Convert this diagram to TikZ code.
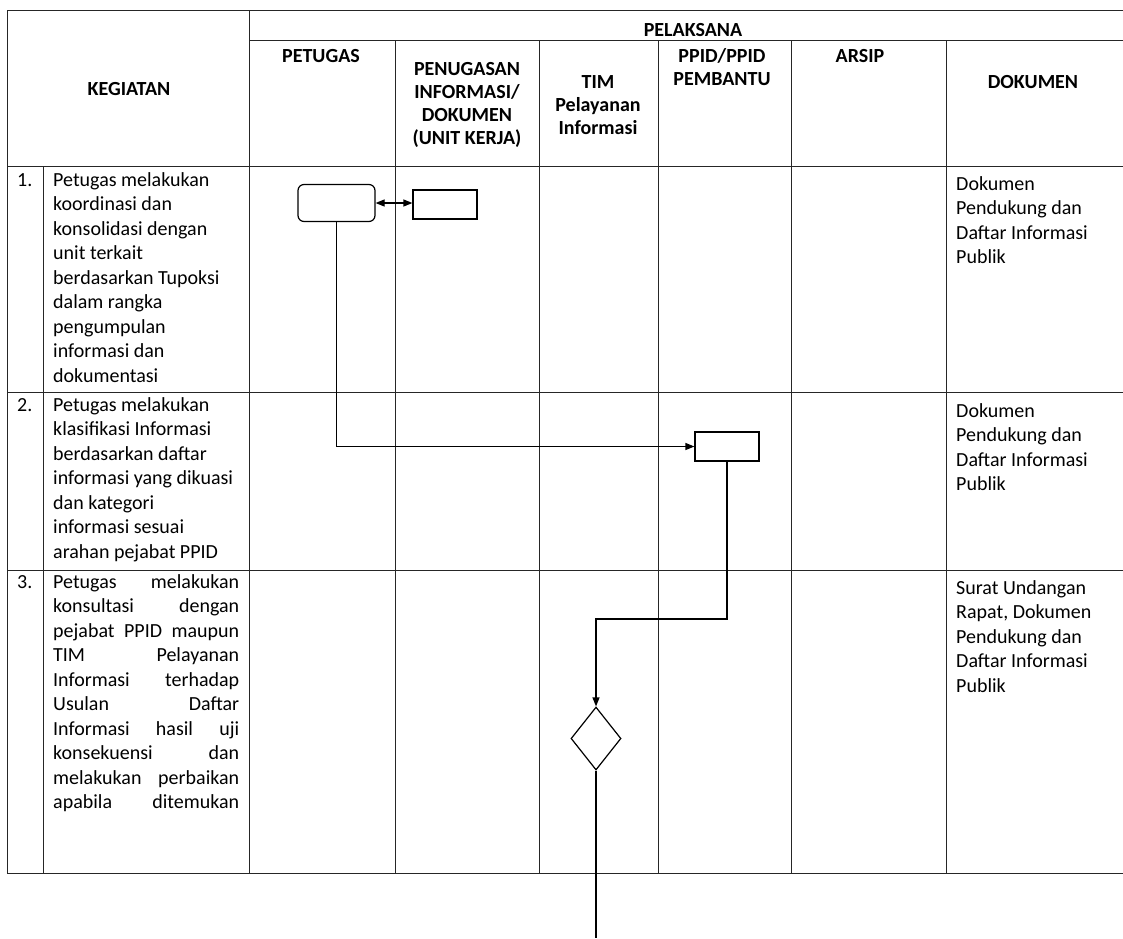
\documentclass[tikz,border=0pt]{standalone}
\usepackage{fontspec}
\setmainfont{Carlito}
\usetikzlibrary{arrows.meta,positioning,shapes.geometric}
\newcommand{\hdfont}{\fontsize{20}{23}\selectfont\bfseries}
\newcommand{\bdfont}{\fontsize{20}{24.5}\selectfont}

\begin{document}
\begin{tikzpicture}[
  x=1pt,y=-1pt,
  grid/.style={draw=black!85,line width=1pt},
  hd/.style={font=\hdfont,inner sep=0pt,align=center},
  bd/.style={font=\bdfont,inner sep=0pt,anchor=north west,align=left},
  num/.style={font=\bdfont,inner sep=0pt,anchor=base west},
  rbox/.style={draw,line width=1.2pt,rounded corners=6pt,minimum width=77pt,
    minimum height=37pt,inner sep=0pt},
  box/.style={draw,line width=1.2pt,minimum width=64pt,minimum height=29pt,inner sep=0pt},
  cek/.style={draw,diamond,line width=1.2pt,minimum width=50pt,minimum height=63pt,inner sep=0pt},
  arr/.style={-{Triangle[length=9pt,width=7pt]},line width=1.2pt},
  arrs/.style={{Triangle[length=9pt,width=7pt]}-{Triangle[length=9pt,width=7pt]},line width=1.2pt}]
  \fill[white] (0,0) rectangle (1123,938);
  \useasboundingbox (0,0) rectangle (1123,938);
  % Table
  \draw[grid] (7,10) -- (1123,10);
  \draw[grid] (249,40) -- (1123,40);
  \draw[grid] (7,10) -- (7,873);
  \draw[grid] (249,10) -- (249,873);
  \draw[grid] (43,166) -- (43,873);
  \foreach \x in {395,539,658,791,946}
    \draw[grid] (\x,40) -- (\x,873);
  \foreach \y in {166,392,570,873}
    \draw[grid] (7,\y) -- (1123,\y);
  % Header
  \node[hd,anchor=base](hKeg) at (129,95) {KEGIATAN};
  \node[hd,anchor=base](hPel) at (693,36) {PELAKSANA};
  \node[hd,anchor=base](hPtg) at (321,62) {PETUGAS};
  \node[hd,anchor=north](hUnit) at (467,58.9)
    {\strut PENUGASAN\\INFORMASI/\\DOKUMEN\\(UNIT KERJA)};
  \node[hd,anchor=north](hTim) at (598,71.9) {\strut TIM\\Pelayanan\\Informasi};
  \node[hd,anchor=north](hPpid) at (722,45.9) {\strut PPID/PPID\\PEMBANTU};
  \node[hd,anchor=base](hArs) at (860,62) {ARSIP};
  \node[hd,anchor=base](hDok) at (1033,88) {DOKUMEN};
  % Kegiatan
  \node[num](n1) at (17,186) {1.};
  \node[bd](kg1) at (53,168.9) {\strut Petugas melakukan\\koordinasi dan\\konsolidasi dengan\\
    unit terkait\\berdasarkan Tupoksi\\dalam rangka\\pengumpulan\\informasi dan\\dokumentasi};
  \node[num](n2) at (17,411) {2.};
  \node[bd](kg2) at (53,393.9) {\strut Petugas melakukan\\klasifikasi Informasi\\
    berdasarkan daftar\\informasi yang dikuasi\\dan kategori\\informasi sesuai\\
    arahan pejabat PPID};
  \node[num](n3) at (17,588) {3.};
  \node[bd,text width=186pt](kg3) at (53,570.9) {\strut Petugas\hfill melakukan\\
    konsultasi\hfill dengan\\pejabat\hfill PPID\hfill maupun\\TIM\hfill Pelayanan\\
    Informasi\hfill terhadap\\Usulan\hfill Daftar\\Informasi\hfill hasil\hfill uji\\
    konsekuensi\hfill dan\\melakukan\hfill perbaikan\\apabila\hfill ditemukan};
  % Dokumen
  \node[bd](dok1) at (956,172.9) {\strut Dokumen\\Pendukung dan\\Daftar Informasi\\Publik};
  \node[bd](dok2) at (956,399.9) {\strut Dokumen\\Pendukung dan\\Daftar Informasi\\Publik};
  \node[bd](dok3) at (956,576.9) {\strut Surat Undangan\\Rapat, Dokumen\\Pendukung dan\\
    Daftar Informasi\\Publik};
  % Flow
  \node[rbox](ptg) at (336.5,203) {};
  \node[box](unit) at (445,204.5) {};
  \node[box](ppid) at (727,446.5) {};
  \node[cek](uji) at (596,738.5) {};
  \coordinate (jog) at (596,619);
  \coordinate (tail) at (596,938);
  \draw[arrs] (ptg.east) -- (ptg.east -| unit.west);
  \draw[arr] (ptg.south) |- (ppid.west);
  \draw[arr] (ppid.south) |- (jog) -- (uji.north);
  \draw[line width=1.2pt] (uji.south) -- (tail);
\end{tikzpicture}
\end{document}
